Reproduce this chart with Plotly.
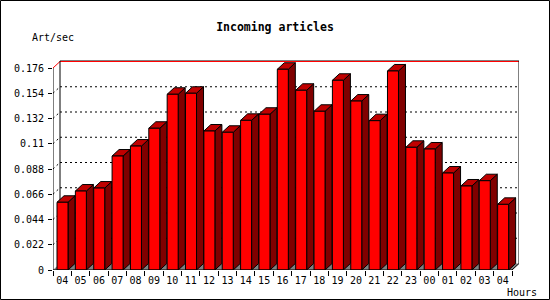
import plotly.graph_objects as go

hours = ["04", "05", "06", "07", "08", "09", "10", "11", "12", "13", "14", "15", "16",
         "17", "18", "19", "20", "21", "22", "23", "00", "01", "02", "03", "04"]
rates = [0.0590, 0.0688, 0.0714, 0.0993, 0.1080, 0.1235, 0.1531, 0.1540, 0.1211,
         0.1200, 0.1304, 0.1357, 0.1749, 0.1566, 0.1383, 0.1653, 0.1472, 0.1301,
         0.1734, 0.1069, 0.1054, 0.0845, 0.0732, 0.0778, 0.0572]
y_ticks = [0, 0.022, 0.044, 0.066, 0.088, 0.11, 0.132, 0.154, 0.176]
y_tick_text = ["0", "0.022", "0.044", "0.066", "0.088", "0.11", "0.132", "0.154", "0.176"]

W, H = 550, 300
ML, MR, MT, MB = 53, 31, 61, 30
PW = W - ML - MR
PH = H - MT - MB
n = len(hours)
DEPTH_X_PX, DEPTH_Y_PX = 7, 6.5
pitch = (PW - DEPTH_X_PX) / n
dxu = DEPTH_X_PX / pitch
ytop = max(y_ticks)
yscale = (PH - 7) / ytop  # px per unit
yrange_top = PH / yscale
dyu = DEPTH_Y_PX / yscale
off = 4 / pitch
bw = 11 / pitch

FRONT, TOP, SIDE, FLOOR = "#ff0000", "#c00000", "#800000", "#808080"

fig = go.Figure()

# floor strip
fig.add_trace(go.Scatter(
    x=[0, n, n + dxu, dxu, 0], y=[0, 0, dyu, dyu, 0], mode="lines",
    fill="toself", fillcolor=FLOOR, line=dict(color=FLOOR, width=0),
    hoverinfo="skip", showlegend=False))

def polys(kind):
    xs, ys = [], []
    for i, v in enumerate(rates):
        x0 = i + off
        x1 = x0 + bw
        if kind == "side":
            px = [x1, x1 + dxu, x1 + dxu, x1, x1]
            py = [0, dyu, v + dyu, v, 0]
        elif kind == "top":
            px = [x0, x1, x1 + dxu, x0 + dxu, x0]
            py = [v, v, v + dyu, v + dyu, v]
        else:
            px = [x0, x1, x1, x0, x0]
            py = [0, 0, v, v, 0]
        xs += px + [None]
        ys += py + [None]
    return xs, ys

for kind, col in [("side", SIDE), ("top", TOP), ("front", FRONT)]:
    xs, ys = polys(kind)
    fig.add_trace(go.Scatter(
        x=xs, y=ys, mode="lines", fill="toself", fillcolor=col,
        line=dict(color="black", width=1), hoverinfo="skip", showlegend=False))

shapes = []
# back-wall grid lines and their diagonals
for v in y_ticks[1:]:
    if v == ytop:
        col, dash = "#ff0000", "solid"
    else:
        col, dash = "black", "2px,3px"
    shapes.append(dict(type="line", xref="x", yref="y", x0=dxu, x1=n + dxu,
                       y0=v + dyu, y1=v + dyu, line=dict(color=col, width=1, dash=dash),
                       layer="below"))
    shapes.append(dict(type="line", xref="x", yref="y", x0=0, x1=dxu,
                       y0=v, y1=v + dyu, line=dict(color=col, width=1, dash=dash),
                       layer="below"))
# back wall frame
shapes.append(dict(type="line", xref="x", yref="y", x0=dxu, x1=dxu, y0=dyu, y1=yrange_top,
                   line=dict(color="black", width=1), layer="below"))
shapes.append(dict(type="line", xref="x", yref="paper", x0=dxu, x1=n + dxu, y0=1, y1=1,
                   line=dict(color="black", width=1), layer="below"))
shapes.append(dict(type="line", xref="x", yref="y", x0=n + dxu, x1=n + dxu, y0=dyu, y1=yrange_top,
                   line=dict(color="black", width=1), layer="below"))
# front axes
shapes.append(dict(type="line", xref="x", yref="y", x0=0, x1=0, y0=0, y1=ytop,
                   line=dict(color="black", width=1)))
shapes.append(dict(type="line", xref="x", yref="y", x0=0, x1=n, y0=0, y1=0,
                   line=dict(color="black", width=1)))
shapes.append(dict(type="line", xref="x", yref="y", x0=n, x1=n + dxu, y0=0, y1=dyu,
                   line=dict(color="black", width=1)))
# outer border of the image
shapes.append(dict(type="rect", xref="paper", yref="paper",
                   x0=(0.5 - ML) / PW, x1=(W - 0.5 - ML) / PW,
                   y0=(MT + PH - (H - 0.5)) / PH, y1=(MT + PH - 0.5) / PH,
                   line=dict(color="black", width=1)))

FONT = "DejaVu Sans Mono"

fig.update_layout(
    width=W, height=H,
    margin=dict(l=ML, r=MR, t=MT, b=MB),
    paper_bgcolor="white", plot_bgcolor="white",
    shapes=shapes,
    title=dict(text="<b>Incoming articles</b>", x=0.5, xref="container", xanchor="center",
               y=1 - 27 / H, yref="container", yanchor="middle",
               font=dict(family=FONT, size=11.5, color="black")),
    xaxis=dict(range=[0, n + dxu], showgrid=False, zeroline=False, showline=False,
               tickmode="array", tickvals=[i + 0.5 for i in range(n)], ticktext=hours,
               ticks="", ticklabelstandoff=3,
               tickfont=dict(family=FONT, size=10, color="black"),
               minor=dict(tickmode="array", tickvals=list(range(n + 1)), ticks="outside",
                          ticklen=5, tickcolor="black", tickwidth=1, showgrid=False),
               fixedrange=True),
    yaxis=dict(range=[0, yrange_top], showgrid=False, zeroline=False, showline=False,
               tickmode="array", tickvals=y_ticks, ticktext=y_tick_text,
               ticks="outside", ticklen=4, tickcolor="black", tickwidth=1,
               ticklabelstandoff=2,
               tickfont=dict(family=FONT, size=10, color="black"), fixedrange=True),
    annotations=[
        dict(text="Art/sec", xref="paper", yref="paper", x=(30 - ML) / PW,
             y=(MT + PH - 37) / PH, xanchor="left", yanchor="middle", showarrow=False,
             font=dict(family=FONT, size=10, color="black")),
        dict(text="Hours", xref="paper", yref="paper", x=(505 - ML) / PW,
             y=(MT + PH - 292) / PH, xanchor="left", yanchor="middle", showarrow=False,
             font=dict(family=FONT, size=10, color="black")),
    ],
)

fig.write_html("out.html")
